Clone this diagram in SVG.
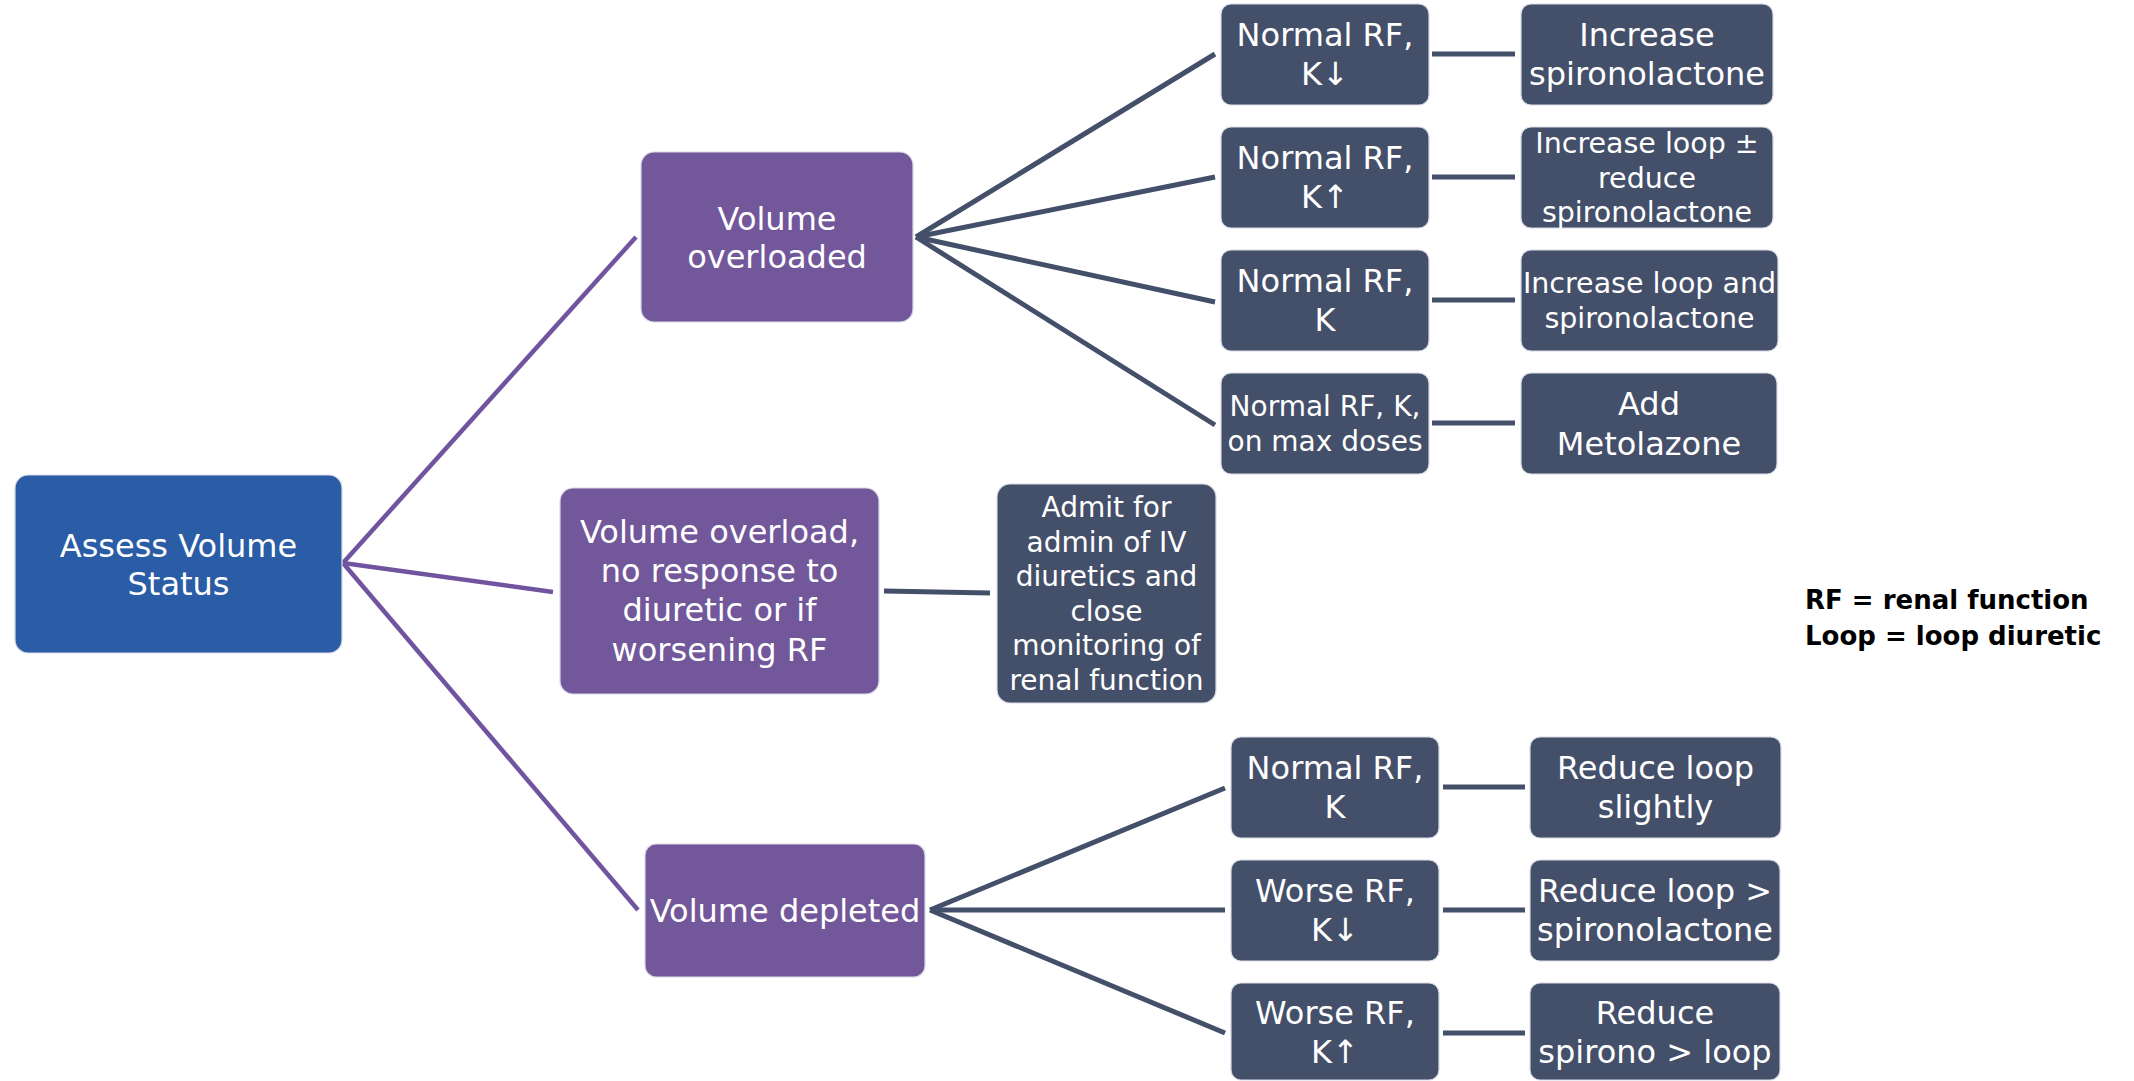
<svg xmlns="http://www.w3.org/2000/svg" width="2134" height="1081" viewBox="0 0 2134 1081">
<style>
.b{stroke:#d8dbe6;stroke-width:1.2}
.blue{fill:#2B5CA6}
.pur{fill:#72579A}
.dk{fill:#444F6A}
text{font-family:"DejaVu Sans","Liberation Sans",sans-serif;fill:#fff;text-anchor:middle}
.t32{font-size:32px}
.t28{font-size:28px}
.t285{font-size:28.5px}
.lg{font-family:"DejaVu Sans","Liberation Sans",sans-serif;font-weight:bold;font-size:26px;fill:#000;text-anchor:start}
.cp{stroke:#7154A0;stroke-width:4.5;fill:none}
.cd{stroke:#444F6A;stroke-width:5;fill:none}
</style>
<rect width="2134" height="1081" fill="#fff"/>
<g id="connectors">
<line class="cp" x1="343" y1="563" x2="636" y2="237"/>
<line class="cp" x1="343" y1="563" x2="553" y2="592"/>
<line class="cp" x1="343" y1="563" x2="638" y2="910"/>
<line class="cd" x1="916" y1="237" x2="1215" y2="54"/>
<line class="cd" x1="916" y1="237" x2="1215" y2="177"/>
<line class="cd" x1="916" y1="237" x2="1215" y2="302"/>
<line class="cd" x1="916" y1="237" x2="1215" y2="425"/>
<line class="cd" x1="884" y1="591" x2="990" y2="593"/>
<line class="cd" x1="930" y1="910" x2="1225" y2="788"/>
<line class="cd" x1="930" y1="910" x2="1225" y2="910"/>
<line class="cd" x1="930" y1="910" x2="1225" y2="1033"/>
<line class="cd" x1="1432" y1="54" x2="1515" y2="54"/>
<line class="cd" x1="1432" y1="177" x2="1515" y2="177"/>
<line class="cd" x1="1432" y1="300" x2="1515" y2="300"/>
<line class="cd" x1="1432" y1="423" x2="1515" y2="423"/>
<line class="cd" x1="1443" y1="787" x2="1525" y2="787"/>
<line class="cd" x1="1443" y1="910" x2="1525" y2="910"/>
<line class="cd" x1="1443" y1="1033" x2="1525" y2="1033"/>
</g>
<g id="root">
<rect class="b blue" x="15" y="475" width="327" height="178" rx="13"/>
<text class="t32" x="178.5" y="556.5">Assess Volume</text>
<text class="t32" x="178.5" y="595">Status</text>
</g>
<g id="overloaded">
<rect class="b pur" x="641" y="152" width="272" height="170" rx="13"/>
<text class="t32" x="777" y="229.5">Volume</text>
<text class="t32" x="777" y="268">overloaded</text>
</g>
<g id="noresponse">
<rect class="b pur" x="560" y="488" width="319" height="206" rx="13"/>
<text class="t32" x="719.5" y="543">Volume overload,</text>
<text class="t32" x="719.5" y="582">no response to</text>
<text class="t32" x="719.5" y="621">diuretic or if</text>
<text class="t32" x="719.5" y="661">worsening RF</text>
</g>
<g id="admit">
<rect class="b dk" x="997" y="484" width="219" height="219" rx="13"/>
<text class="t28" x="1106.5" y="517">Admit for</text>
<text class="t28" x="1106.5" y="551.5">admin of IV</text>
<text class="t28" x="1106.5" y="586">diuretics and</text>
<text class="t28" x="1106.5" y="620.5">close</text>
<text class="t28" x="1106.5" y="655">monitoring of</text>
<text class="t28" x="1106.5" y="689.5">renal function</text>
</g>
<g id="depleted">
<rect class="b pur" x="645" y="844" width="280" height="133" rx="11"/>
<text class="t32" x="785" y="922">Volume depleted</text>
</g>
<g id="u1">
<rect class="b dk" x="1221" y="4" width="208" height="101" rx="10"/>
<text class="t32" x="1325" y="46">Normal RF,</text>
<text class="t32" x="1325" y="85">K↓</text>
</g>
<g id="u2">
<rect class="b dk" x="1221" y="127" width="208" height="101" rx="10"/>
<text class="t32" x="1325" y="169">Normal RF,</text>
<text class="t32" x="1325" y="208">K↑</text>
</g>
<g id="u3">
<rect class="b dk" x="1221" y="250" width="208" height="101" rx="10"/>
<text class="t32" x="1325" y="292">Normal RF,</text>
<text class="t32" x="1325" y="331">K</text>
</g>
<g id="u4">
<rect class="b dk" x="1221" y="373" width="208" height="101" rx="10"/>
<text class="t28" x="1325" y="416">Normal RF, K,</text>
<text class="t28" x="1325" y="450.5">on max doses</text>
</g>
<g id="r1">
<rect class="b dk" x="1521" y="4" width="252" height="101" rx="10"/>
<text class="t32" x="1647" y="46">Increase</text>
<text class="t32" x="1647" y="85">spironolactone</text>
</g>
<g id="r2">
<rect class="b dk" x="1521" y="127" width="252" height="101" rx="10"/>
<text class="t285" x="1647" y="152.5">Increase loop ±</text>
<text class="t285" x="1647" y="187.5">reduce</text>
<text class="t285" x="1647" y="222">spironolactone</text>
</g>
<g id="r3">
<rect class="b dk" x="1521" y="250" width="257" height="101" rx="10"/>
<text class="t285" x="1649.5" y="293">Increase loop and</text>
<text class="t285" x="1649.5" y="328">spironolactone</text>
</g>
<g id="r4">
<rect class="b dk" x="1521" y="373" width="256" height="101" rx="10"/>
<text class="t32" x="1649" y="415">Add</text>
<text class="t32" x="1649" y="455">Metolazone</text>
</g>
<g id="l1">
<rect class="b dk" x="1231" y="737" width="208" height="101" rx="10"/>
<text class="t32" x="1335" y="779">Normal RF,</text>
<text class="t32" x="1335" y="818">K</text>
</g>
<g id="l2">
<rect class="b dk" x="1231" y="860" width="208" height="101" rx="10"/>
<text class="t32" x="1335" y="902">Worse RF,</text>
<text class="t32" x="1335" y="941">K↓</text>
</g>
<g id="l3">
<rect class="b dk" x="1231" y="983" width="208" height="97" rx="10"/>
<text class="t32" x="1335" y="1023.5">Worse RF,</text>
<text class="t32" x="1335" y="1062.5">K↑</text>
</g>
<g id="m1">
<rect class="b dk" x="1530" y="737" width="251" height="101" rx="10"/>
<text class="t32" x="1655.5" y="779">Reduce loop</text>
<text class="t32" x="1655.5" y="818">slightly</text>
</g>
<g id="m2">
<rect class="b dk" x="1530" y="860" width="250" height="101" rx="10"/>
<text class="t32" x="1655" y="902">Reduce loop &gt;</text>
<text class="t32" x="1655" y="941">spironolactone</text>
</g>
<g id="m3">
<rect class="b dk" x="1530" y="983" width="250" height="97" rx="10"/>
<text class="t32" x="1655" y="1023.5">Reduce</text>
<text class="t32" x="1655" y="1062.5">spirono &gt; loop</text>
</g>
<g id="legend">
<text class="lg" x="1805" y="609">RF = renal function</text>
<text class="lg" x="1805" y="645">Loop = loop diuretic</text>
</g>
</svg>
